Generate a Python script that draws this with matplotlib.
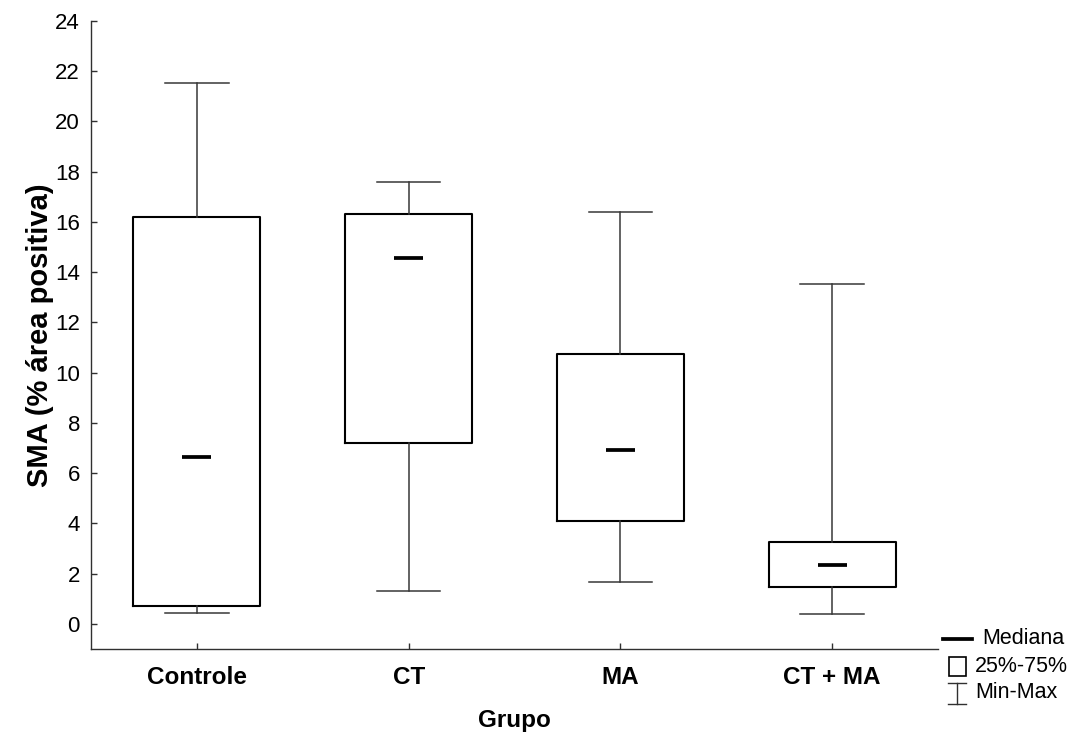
import matplotlib
matplotlib.use("Agg")
import matplotlib.pyplot as plt
from matplotlib.lines import Line2D
from matplotlib.patches import Rectangle

plt.rcParams['font.family'] = ['Liberation Sans', 'DejaVu Sans']

categories = ["Controle", "CT", "MA", "CT + MA"]
mins    = [0.45, 1.3, 1.65, 0.39]
q1      = [0.72, 7.2, 4.1, 1.45]
medians = [6.65, 14.57, 6.93, 2.33]
q3      = [16.2, 16.3, 10.75, 3.24]
maxs    = [21.53, 17.6, 16.4, 13.53]
yticks = list(range(0, 25, 2))

fig = plt.figure(figsize=(10.82, 7.38), dpi=100)
ax = fig.add_axes([91/1082, 1-649/738, (938-91)/1082, (649-21)/738])

positions = list(range(1, len(categories) + 1))
stats = []
for i, c in enumerate(categories):
    stats.append(dict(label=c, whislo=mins[i], q1=q1[i], med=medians[i],
                      q3=q3[i], whishi=maxs[i], fliers=[]))

ax.bxp(stats, positions=positions, widths=0.6, capwidths=0.3,
       showfliers=False,
       boxprops=dict(color='black', linewidth=1.5),
       whiskerprops=dict(color='#383838', linewidth=1.1),
       capprops=dict(color='#383838', linewidth=1.1),
       medianprops=dict(linestyle='none'))
ax.hlines(medians, [p - 0.068 for p in positions], [p + 0.068 for p in positions],
          color='black', linewidth=2.7, zorder=5)

ax.set_xlim(0.5, 4.5)
ax.set_ylim(-1, 24)
ax.set_yticks(yticks)
ax.set_yticklabels([str(t) for t in yticks], fontsize=16)
ax.set_xticks(positions)
ax.set_xticklabels(categories, fontsize=17.5, fontweight='bold')
ax.tick_params(direction='in', length=4, width=1, color='#303030', pad=8)
ax.tick_params(axis='x', pad=12)
for s in ['top', 'right']:
    ax.spines[s].set_visible(False)
for s in ['left', 'bottom']:
    ax.spines[s].set_linewidth(1.0)
    ax.spines[s].set_color('#303030')
ax.set_xlabel("Grupo", fontsize=17.5, fontweight='bold', labelpad=15)
ax.set_ylabel("SMA (% área positiva)", fontsize=21, fontweight='bold', labelpad=1)

# legend drawn in pixel coordinates
lax = fig.add_axes([0, 0, 1, 1], facecolor='none')
lax.set_xlim(0, 1082)
lax.set_ylim(738, 0)
lax.axis('off')
lax.add_line(Line2D([943, 972], [639, 639], color='black', linewidth=2.7))
lax.text(982, 639, "Mediana", fontsize=15.5, va='center', ha='left')
lax.add_patch(Rectangle((949, 657), 17, 19, fill=False, edgecolor='black', linewidth=1.2))
lax.text(975, 666, "25%-75%", fontsize=15.5, va='center', ha='left')
lax.add_line(Line2D([957, 957], [683, 704], color='#303030', linewidth=1.0))
lax.add_line(Line2D([948, 966], [683, 683], color='#303030', linewidth=1.0))
lax.add_line(Line2D([948, 966], [704, 704], color='#303030', linewidth=1.0))
lax.text(975, 693, "Min-Max", fontsize=15.5, va='center', ha='left')

fig.savefig("out.png", dpi=100)
